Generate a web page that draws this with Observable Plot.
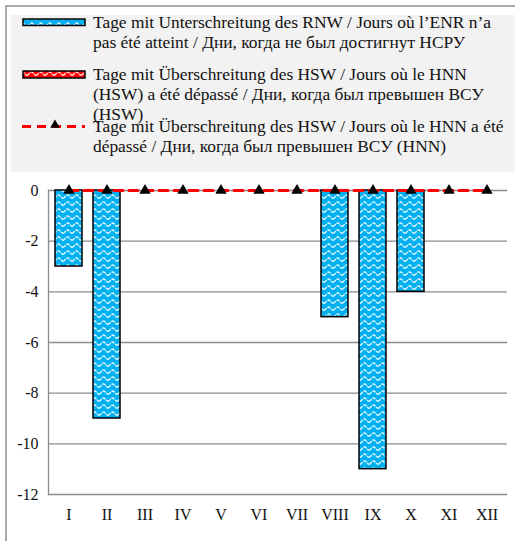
<!DOCTYPE html>
<html>
<head>
<meta charset="utf-8">
<script src="https://cdn.jsdelivr.net/npm/d3@7"></script>
<script src="https://cdn.jsdelivr.net/npm/@observablehq/plot@0.6"></script>
<style>
  html, body { margin: 0; padding: 0; background: #fff; }
  #wrap { position: relative; width: 515px; height: 541px; overflow: hidden; font-family: "Liberation Serif", "Times New Roman", serif; }
  #border { position: absolute; left: 5px; top: 5px; width: 600px; height: 600px; border-left: 2px solid #ababab; border-top: 2px solid #ababab; }
  #legendbg { position: absolute; left: 11px; top: 15px; width: 504px; height: 157px; background: #f2f2f2; }
  #legend { position: absolute; left: 0; top: 0; }
  #chart { position: absolute; left: 0; top: 172px; }
  #chart svg text { font-family: "Liberation Serif", "Times New Roman", serif; }
</style>
</head>
<body>
<div id="wrap">
  <div id="border"></div>
  <div id="legendbg"></div>
  <svg id="legend" width="515" height="172"></svg>
  <div id="chart"></div>
</div>
<script>
const months = ["I", "II", "III", "IV", "V", "VI", "VII", "VIII", "IX", "X", "XI", "XII"];
const rnwDays = [-3, -9, 0, 0, 0, 0, 0, -5, -11, -4, 0, 0];
const hswDays = [0, 0, 0, 0, 0, 0, 0, 0, 0, 0, 0, 0];
const hnnDays = [0, 0, 0, 0, 0, 0, 0, 0, 0, 0, 0, 0];
const yTicks = [0, -2, -4, -6, -8, -10, -12];
const legendRnw = ["Tage mit Unterschreitung des RNW / Jours où l’ENR n’a", "pas été atteint / Дни, когда не был достигнут НСРУ"];
const legendHsw = ["Tage mit Überschreitung des HSW / Jours où le HNN", "(HSW) a été dépassé / Дни, когда был превышен ВСУ", "(HSW)"];
const legendHnn = ["Tage mit Überschreitung des HSW / Jours où le HNN a été", "dépassé / Дни, когда был превышен ВСУ (HNN)"];

const data = months.map((m, i) => ({month: m, rnw: rnwDays[i], hsw: hswDays[i], hnn: hnnDays[i]}));
const serif = "Liberation Serif, Times New Roman, serif";

function addWave(defs, id, color) {
  const p = defs.append("pattern").attr("id", id).attr("patternUnits", "userSpaceOnUse")
    .attr("width", 9).attr("height", 7);
  p.append("rect").attr("width", 9).attr("height", 7).attr("fill", color);
  p.append("path").attr("d", "M0,5.2 C1.8,5.2 2.7,2 4.5,2 C6.3,2 7.2,5.2 9,5.2")
    .attr("fill", "none").attr("stroke", "#ffffff").attr("stroke-width", 1.4)
    .attr("stroke-dasharray", "3.5,1").attr("opacity", 0.9);
}

// legend
const lg = d3.select("#legend");
const ldefs = lg.append("defs");
addWave(ldefs, "lwaveBlue", "#00b0f0");
addWave(ldefs, "lwaveRed", "#ff0000");
lg.append("rect").attr("x", 23).attr("y", 19).attr("width", 62).attr("height", 6.5)
  .attr("fill", "url(#lwaveBlue)").attr("stroke", "#000").attr("stroke-width", 1.5);
lg.append("rect").attr("x", 23).attr("y", 71).attr("width", 62).attr("height", 7)
  .attr("fill", "url(#lwaveRed)").attr("stroke", "#000").attr("stroke-width", 1.5);
lg.append("line").attr("x1", 22).attr("x2", 85).attr("y1", 126.5).attr("y2", 126.5)
  .attr("stroke", "#ff0000").attr("stroke-width", 3).attr("stroke-dasharray", "9,6");
lg.append("path").attr("d", d3.symbol(d3.symbolTriangle, 40)()).attr("transform", "translate(55,125)").attr("fill", "#000");
function legendText(lines, y0) {
  lines.forEach((t, i) => {
    lg.append("text").attr("x", 93).attr("y", y0 + i * 20).attr("font-size", 17.4)
      .attr("font-family", serif).attr("fill", "#111").text(t);
  });
}
legendText(legendRnw, 28);
legendText(legendHsw, 80);
legendText(legendHnn, 132);

const defsMark = () => {
  const defs = d3.create("svg:defs");
  addWave(defs, "waveBlue", "#00b0f0");
  addWave(defs, "waveRed", "#ff0000");
  return defs.node();
};

const chart = Plot.plot({
  width: 515,
  height: 369,
  marginTop: 18,
  marginBottom: 47,
  marginLeft: 48,
  marginRight: 8,
  style: {fontFamily: serif, color: "#111", background: "transparent"},
  x: {domain: months, paddingInner: 0.3, paddingOuter: 0.15, label: null},
  y: {domain: [-12, 0], label: null},
  marks: [
    defsMark,
    Plot.ruleY(yTicks, {stroke: "#8c8c8c", strokeWidth: 1.3}),
    Plot.frame({anchor: "left", stroke: "#8c8c8c", strokeWidth: 1.3}),
    Plot.barY(data.filter(d => d.hsw !== 0), {x: "month", y: "hsw", fill: "url(#waveRed)", stroke: "#000", strokeWidth: 1.5}),
    Plot.barY(data.filter(d => d.rnw !== 0), {x: "month", y: "rnw", fill: "url(#waveBlue)", stroke: "#000", strokeWidth: 1.5}),
    Plot.lineY(data, {x: "month", y: "hnn", stroke: "#ff0000", strokeWidth: 3, strokeDasharray: "9,6"}),
    Plot.dot(data, {x: "month", y: "hnn", symbol: "triangle", fill: "#000", r: 4.2}),
    Plot.axisY({ticks: yTicks, tickSize: 0, tickPadding: 10, fontSize: 16, fontFamily: serif, tickFormat: d => String(d)}),
    Plot.axisX({tickSize: 0, tickPadding: 14, fontSize: 16, fontFamily: serif})
  ]
});
document.getElementById("chart").appendChild(chart);
</script>
</body>
</html>
